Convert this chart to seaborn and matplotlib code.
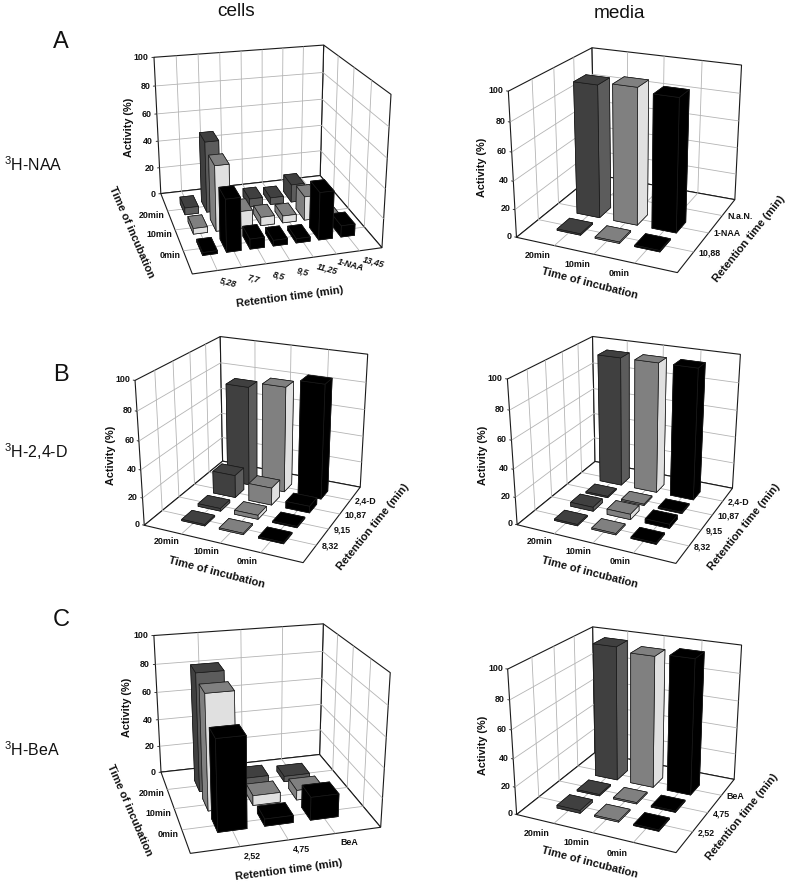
import numpy as np
import matplotlib
matplotlib.use("Agg")
import matplotlib.pyplot as plt
import seaborn as sns
from mpl_toolkits.mplot3d import proj3d

W, H = 787, 882
sns.set_theme(style="white")
plt.rcParams['font.family'] = ['Liberation Sans', 'DejaVu Sans']
plt.rcParams['grid.color'] = '#b4b4b4'
plt.rcParams['grid.linewidth'] = 0.6
plt.rcParams['axes3d.grid'] = True

times = ['20min', '10min', '0min']
ret_a1 = ['5,28', '7,7', '8,5', '9,5', '11,25', '1-NAA', '13,45']
ret_a2 = ['10,88', '1-NAA', 'N.a.N.']
ret_b = ['8,32', '9,15', '10,87', '2,4-D']
ret_c = ['2,52', '4,75', 'BeA']

a1_vals = [[5, 51, 6, 6, 5, 13, 3], [4, 46, 12, 6, 5, 17, 2], [2, 36, 7, 4, 3, 33, 8]]
a2_vals = [[1, 95, 0], [1, 97, 0], [1, 94, 0]]
b1_vals = [[1, 2, 17, 75], [1, 3, 13, 79], [1, 1, 5, 85]]
b2_vals = [[1, 3, 1, 96], [1, 4, 1, 96], [1, 3, 1, 96]]
c1_vals = [[84, 6, 4], [80, 7, 7], [62, 5, 16]]
c2_vals = [[2, 1, 99], [1, 1, 96], [1, 1, 98]]

pal = sns.color_palette(['#404040', '#808080', '#000000'])
right_face = ['#5c5c5c', '#e0e0e0', '#000000']

panels = [
 dict(vals=a1_vals, rets=ret_a1, kind='A', par=(21.644, -105.58, 0.526, 1.198, 1.169), rect=(113.2, 582.1, 293.6),
      act=(129,127), tim=(131,232), rtn=(290,297), tilt=-15, off=(1.22, -0.52)),
 dict(vals=a2_vals, rets=ret_a2, kind='M', par=(21.502, -65.93, 0.564, 1.127, 1.144), rect=(488.9, 590.3, 276.3),
      act=(482,167), tim=(590,283), rtn=(749,239)),
 dict(vals=b1_vals, rets=ret_b, kind='M', par=(22.335, -65.517, 0.519, 1.121, 1.139), rect=(116.9, 302.8, 274.0),
      act=(111,455), tim=(217,572), rtn=(373,527)),
 dict(vals=b2_vals, rets=ret_b, kind='M', par=(22.522, -65.13, 0.499, 1.117, 1.109), rect=(489.8, 303.2, 273.1),
      act=(483,455), tim=(590,572), rtn=(744,527)),
 dict(vals=c1_vals, rets=ret_c, kind='A', par=(21.737, -105.18, 0.502, 1.19, 1.159), rect=(112.3, 3.4, 293.6),
      act=(127,707), tim=(129,810), rtn=(289,870), tilt=0, off=(1.15, -0.42)),
 dict(vals=c2_vals, rets=ret_c, kind='M', par=(22.076, -64.879, 0.528, 1.128, 1.114), rect=(489.7, 12.5, 273.9),
      act=(483,745), tim=(590,862), rtn=(742,817)),
]

fig = plt.figure(figsize=(W/100, H/100), dpi=100, facecolor='white')

def draw(P):
    el, az, fl, ax_, ay_ = P['par']
    l, b, s = P['rect']
    ax = fig.add_axes([l/W, b/H, s/W, s/H], projection='3d', computed_zorder=False)
    ax.patch.set_alpha(0)
    rets = P['rets']; vals = np.array(P['vals'], float)
    nt, nr = vals.shape
    A = P['kind'] == 'A'
    nx, ny = (nr+1, nt+1) if A else (nt+1, nr+1)
    order = []
    for i in range(nt):
        for j in range(nr):
            X, Y = (j+1, nt-i) if A else (i+1, j+1)
            order.append((X, Y, i, j))
    cx = np.cos(np.deg2rad(az)); cy = np.sin(np.deg2rad(az))
    order.sort(key=lambda o: o[0]/nx*ax_*cx + o[1]/ny*ay_*cy)
    wx, wy = 0.62, 0.62
    for n, (X, Y, i, j) in enumerate(order):
        v = vals[i, j]
        if v <= 0:
            continue
        dark, light = pal[i], right_face[i]
        # faces: -z, +z, -y, +y, -x, +x
        cols = [dark, dark, light, light, dark, dark] if A else [dark, dark, dark, dark, light, light]
        ax.bar3d(X-wx/2, Y-wy/2, 0, wx, wy, v, color=cols, shade=False,
                 edgecolor='k', linewidth=0.5, zorder=10+n)
    ax.set_xlim(0, nx, view_margin=0); ax.set_ylim(0, ny, view_margin=0); ax.set_zlim(0, 100, view_margin=0)
    ax.view_init(el, az)
    ax.set_proj_type('persp', focal_length=fl)
    ax.set_box_aspect((ax_, ay_, 1))
    ax.set_xticks(range(1, nx)); ax.set_yticks(range(1, ny)); ax.set_zticks(range(20, 100, 20))
    ax.set_xticklabels([]); ax.set_yticklabels([]); ax.set_zticklabels([])
    for a in (ax.xaxis, ax.yaxis, ax.zaxis):
        a.pane.set_facecolor('white'); a.pane.set_edgecolor('#1a1a1a'); a.pane.set_linewidth(0.8); a.pane.set_alpha(1)
        a.pane.set_closed(True)
        a.line.set_color((0,0,0,0))
        a._axinfo['tick']['inward_factor'] = 0; a._axinfo['tick']['outward_factor'] = 0
    tk = dict(fontsize=6.4, color='#111111', fontweight='bold', zorder=1000)
    M = ax.get_proj()
    def label(x, y, z, s_, **kw):
        # tick text placed at the projected scale position of (x, y, z)
        px, py, _ = proj3d.proj_transform(x, y, z, M)
        ax.text2D(px, py, s_, transform=ax.transData, **kw, **tk)
    zy = ny if A else 0
    for z in range(0, 101, 20):
        label(-0.03*nx, zy, z, str(z), ha='right', va='center')
        ax.plot([-0.012*nx, 0], [zy, zy], [z, z], color='#1a1a1a', lw=0.6, zorder=5)
    if A:
        for j, r in enumerate(rets):
            label(j+P['off'][0], P['off'][1], 0, r, ha='center', va='center', rotation=P['tilt'],
                  style='italic' if P['tilt'] else 'normal')
        for i, t_ in enumerate(times):
            label(-0.025*nx, nt-1-i+0.8, 0, t_, ha='right', va='center')
    else:
        for i, t_ in enumerate(times):
            label(i+0.88, -0.55, 0, t_, ha='center', va='center')
        for j, r in enumerate(rets):
            label(nx+0.12, j+1.0, 0, r, ha='left', va='center')
    lb = dict(fontweight='bold', color='#111111', ha='center', va='center')
    fig.text(P['act'][0]/W, 1-P['act'][1]/H, 'Activity (%)', rotation=90, fontsize=7.8, **lb)
    fig.text(P['tim'][0]/W, 1-P['tim'][1]/H, 'Time of incubation', rotation=-66.5 if A else -14.5, fontsize=8, **lb)
    fig.text(P['rtn'][0]/W, 1-P['rtn'][1]/H, 'Retention time (min)', rotation=7.5 if A else 51, fontsize=8, **lb)

for P in panels:
    draw(P)

big = dict(color='#111111', ha='center', va='center')
fig.text(236/W, 1-11/H, 'cells', fontsize=13.7, **big)
fig.text(619/W, 1-13/H, 'media', fontsize=13.7, **big)
for s_, y in (('A', 42), ('B', 375), ('C', 620)):
    fig.text(61/W, 1-y/H, s_, fontsize=17, **big)
for s_, y in (('$\\mathregular{^{3}}$H-NAA', 165), ('$\\mathregular{^{3}}$H-2,4-D', 452), ('$\\mathregular{^{3}}$H-BeA', 750)):
    fig.text(4/W, 1-y/H, s_, fontsize=11.5, color='#111111', ha='left', va='center')

fig.savefig('out.png', dpi=100, facecolor='white')
